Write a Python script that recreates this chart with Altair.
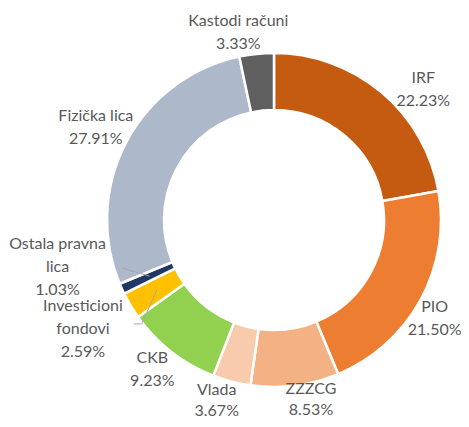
import altair as alt
import pandas as pd
import math

categories = ["IRF", "PIO", "ZZZCG", "Vlada", "CKB", "Investicioni fondovi",
              "Ostala pravna lica", "Fizička lica", "Kastodi računi"]
label_names = ["IRF", "PIO", "ZZZCG", "Vlada", "CKB", "Investicioni\nfondovi",
               "Ostala pravna\nlica", "Fizička lica", "Kastodi računi"]
shares = [22.23, 21.50, 8.53, 3.67, 9.23, 2.59, 1.03, 27.91, 3.33]
colors = ["#C55A11", "#ED7D31", "#F4B183", "#F8CBAD", "#92D050", "#FFC000",
          "#203864", "#ADB9CA", "#5F5F5F"]

df = pd.DataFrame({
    "cat": categories,
    "val": shares,
    "ord": list(range(len(categories))),
    "label": [f"{n}\n{v:.2f}%" for n, v in zip(label_names, shares)],
})
total = sum(shares)

CX, CY = 266, 212          # donut centre inside the plot area
R_IN, R_OUT = 110, 167
FONT = "Lato"
TXT = "#595959"

arcs = alt.Chart(df).mark_arc(innerRadius=R_IN, outerRadius=R_OUT, stroke="white",
                              strokeWidth=2.5).encode(
    theta=alt.Theta("val:Q", stack=True),
    order=alt.Order("ord:Q"),
    x=alt.value(CX), y=alt.value(CY),
    color=alt.Color("cat:N", scale=alt.Scale(domain=categories, range=colors),
                    legend=None),
)

# label nudges (dx, dy) of the first text line, relative to the mid-angle anchor at radius 198
nudges = {
    "IRF": (22, 10),
    "PIO": (-13, -8),
    "ZZZCG": (12, -27),
    "Vlada": (-7, -22),
    "CKB": (0, -18),
    "Investicioni fondovi": (-21, -15),
    "Ostala pravna lica": (-36, -57),
    "Fizička lica": (-3, -12),
    "Kastodi računi": (-15, -2),
}

theta_scale = alt.Scale(domain=[0, total], range=[0, 2 * math.pi])
text_base = alt.Chart(df).transform_window(
    cum="sum(val)", sort=[alt.SortField("ord")], frame=[None, 0]
).transform_calculate(mid="datum.cum - datum.val / 2")

layers = [arcs]
for cat, (dx, dy) in nudges.items():
    lh = 21 if cat in ("ZZZCG", "Vlada") else 23
    layers.append(
        text_base.transform_filter(alt.datum.cat == cat)
        .mark_text(radius=198, font=FONT, fontSize=16, color=TXT,
                   lineBreak="\n", lineHeight=lh, align="center",
                   baseline="middle", dx=dx, dy=dy)
        .encode(theta=alt.Theta("mid:Q", scale=theta_scale, stack=None),
                x=alt.value(CX), y=alt.value(CY), text="label:N")
    )

# leader lines for the two thin slices, starting at the middle of the ring
R_MID = (R_IN + R_OUT) / 2 - 2
lead = pd.DataFrame({
    "cat": ["Ostala pravna lica", "Investicioni fondovi", "Investicioni fondovi"],
    "seg": [0, 1, 2],
})
lead_chart = alt.Chart(lead).transform_calculate(
    ang=("datum.cat == 'Ostala pravna lica' ? "
         f"({sum(shares[:6]) + shares[6] / 2}) / {total} * 2 * PI : "
         f"({sum(shares[:5]) + shares[5] / 2}) / {total} * 2 * PI"),
).transform_calculate(
    sx=f"{CX} + {R_MID} * sin(datum.ang)",
    sy=f"{CY} - {R_MID} * cos(datum.ang)",
).transform_calculate(
    x1="datum.seg == 2 ? datum.sx - 15 : datum.sx",
    y1="datum.seg == 2 ? datum.sy + 34 : datum.sy",
    x2="datum.seg == 0 ? datum.sx - 27 : (datum.seg == 1 ? datum.sx - 15 : datum.sx - 23)",
    y2="datum.seg == 0 ? datum.sy - 8 : datum.sy + 34",
).mark_rule(color="#A6A6A6", strokeWidth=1).encode(
    x=alt.X("x1:Q", scale=None, axis=None),
    y=alt.Y("y1:Q", scale=None, axis=None),
    x2="x2:Q", y2="y2:Q",
)
layers.append(lead_chart)

chart = alt.layer(*layers).properties(
    width=453, height=411,
    autosize=alt.AutoSizeParams(type="none"),
    padding=0,
).configure_view(stroke=None)

chart.save("out.html", embed_options={"renderer": "svg", "actions": False})
